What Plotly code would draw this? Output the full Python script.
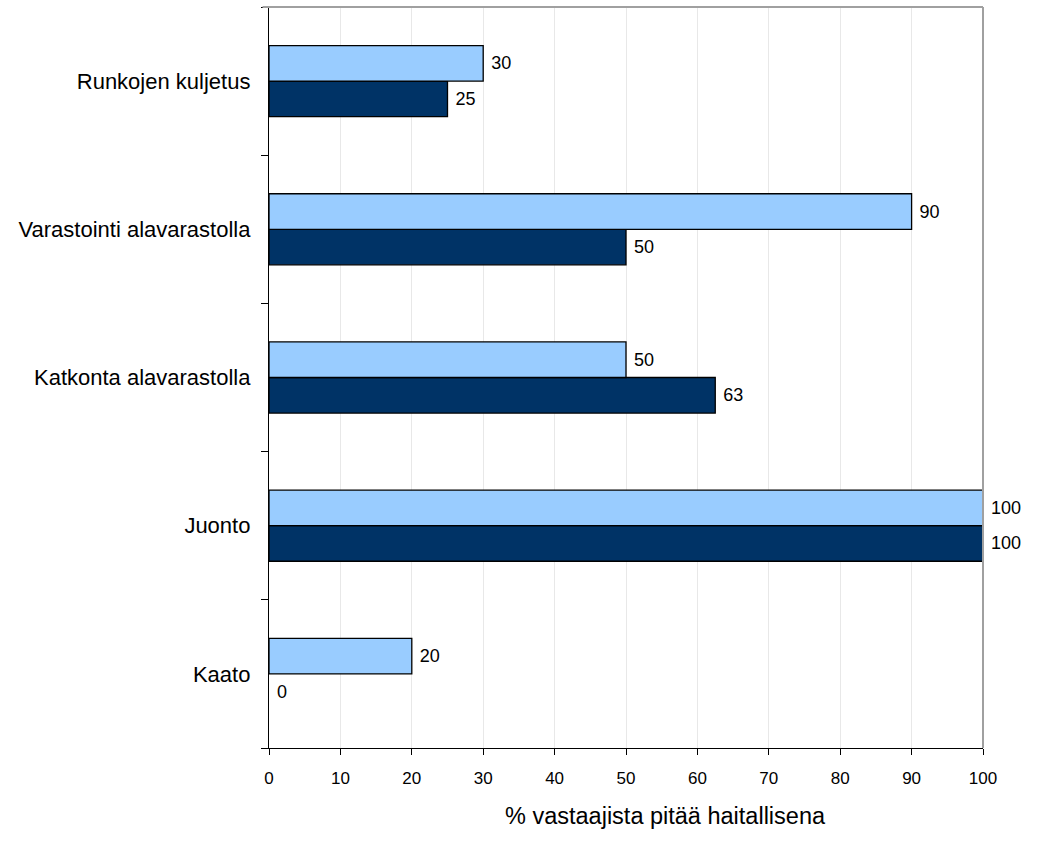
import plotly.graph_objects as go

categories = ["Kaato", "Juonto", "Katkonta alavarastolla",
              "Varastointi alavarastolla", "Runkojen kuljetus"]
light_values = [20, 100, 50, 90, 30]
dark_values = [0, 100, 62.5, 50, 25]
x_ticks = [0, 10, 20, 30, 40, 50, 60, 70, 80, 90, 100]
x_title = "% vastaajista pitää haitallisena"

FONT = "Liberation Sans, Arial, sans-serif"


def labels(vals):
    return [" " + str(int(v + 0.5)) for v in vals]


def outline_widths(vals):
    return [0 if v == 0 else 1.3 for v in vals]


fig = go.Figure()
fig.add_trace(go.Bar(
    y=categories, x=dark_values, orientation="h",
    marker=dict(color="#003366",
                line=dict(color="#000000", width=outline_widths(dark_values))),
    text=labels(dark_values), textposition="outside", cliponaxis=False,
    textfont=dict(family=FONT, size=18, color="#000000"),
    showlegend=False,
))
fig.add_trace(go.Bar(
    y=categories, x=light_values, orientation="h",
    marker=dict(color="#99CCFF",
                line=dict(color="#000000", width=outline_widths(light_values))),
    text=labels(light_values), textposition="outside", cliponaxis=False,
    textfont=dict(family=FONT, size=18, color="#000000"),
    showlegend=False,
))

fig.update_layout(
    width=1040, height=843,
    margin=dict(l=269, r=57, t=7, b=95),
    paper_bgcolor="white", plot_bgcolor="white",
    barmode="group", bargap=0.52, bargroupgap=0,
    font=dict(family=FONT, color="#000000"),
    shapes=[
        dict(type="line", xref="paper", yref="paper", x0=-0.009, x1=1, y0=1, y1=1,
             line=dict(color="#A0A0A0", width=2), layer="above"),
        dict(type="line", xref="paper", yref="paper", x0=1, x1=1, y0=0, y1=1,
             line=dict(color="#A0A0A0", width=2), layer="above"),
    ],
    annotations=[
        dict(text=x_title, xref="paper", yref="paper",
             x=(665 - 269) / 714, y=-(816 - 748) / 741,
             xanchor="center", yanchor="middle", showarrow=False,
             font=dict(family=FONT, size=23.5, color="#000000")),
    ],
)

fig.update_xaxes(
    range=[0, 100], tickvals=x_ticks, ticktext=[str(t) for t in x_ticks],
    showgrid=True, gridcolor="#E8E8E8", gridwidth=1,
    showline=True, linecolor="#000000", linewidth=1.3,
    ticks="outside", ticklen=6, tickcolor="#000000",
    tickfont=dict(family=FONT, size=17, color="#000000"),
    ticklabelstandoff=8, zeroline=False, fixedrange=True,
)
fig.update_yaxes(
    categoryorder="array", categoryarray=categories,
    showgrid=False, showline=True, linecolor="#000000", linewidth=1.3,
    ticks="outside", ticklen=7, tickcolor="#000000", tickson="boundaries",
    tickfont=dict(family=FONT, size=22, color="#000000"),
    ticklabelstandoff=13, fixedrange=True,
)

fig.write_html("out.html")
